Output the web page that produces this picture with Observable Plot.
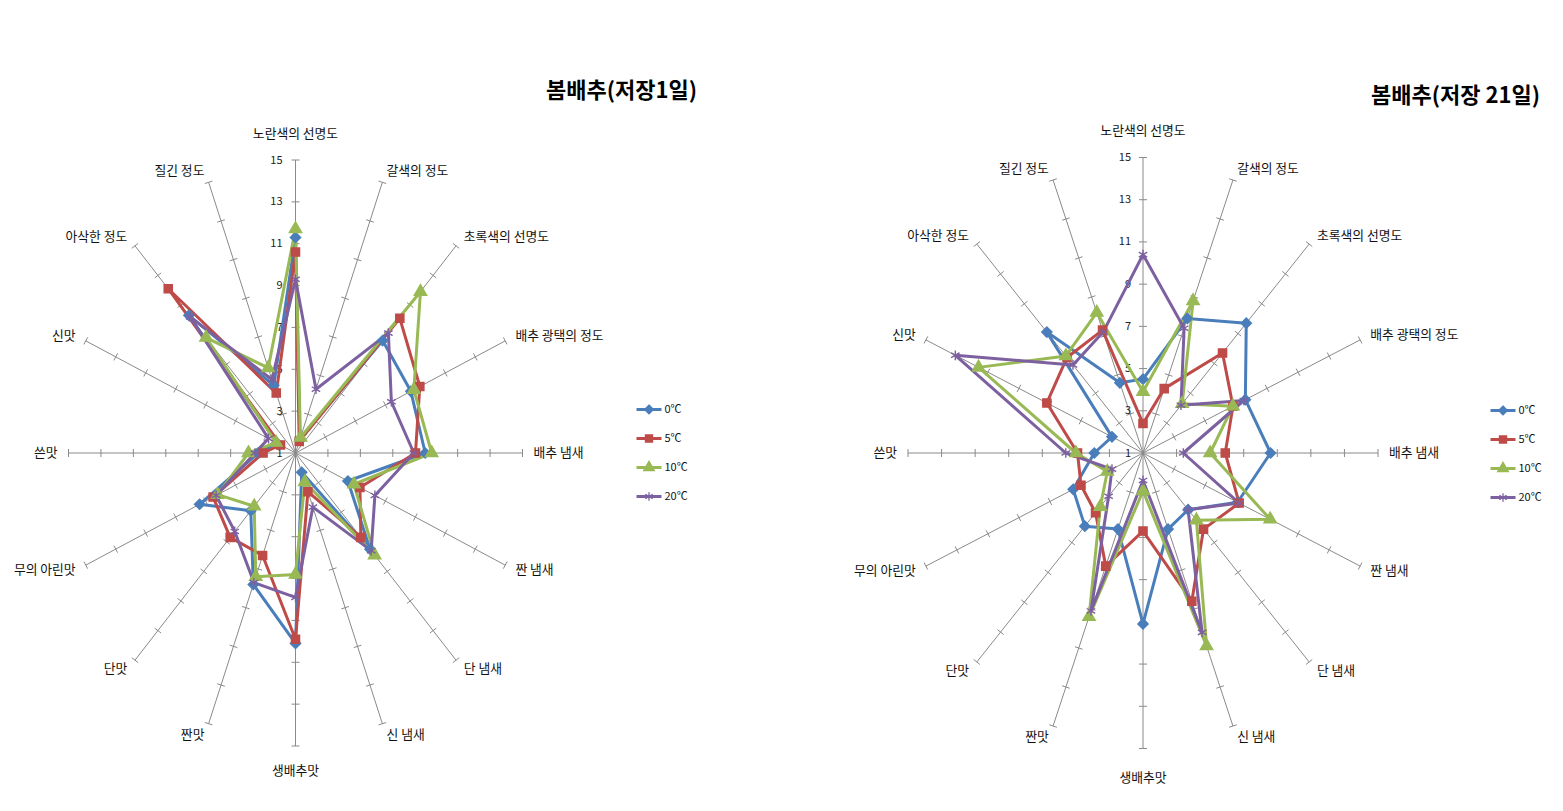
<!DOCTYPE html>
<html><head><meta charset="utf-8">
<script src="https://cdn.jsdelivr.net/npm/d3@7"></script>
<script src="https://cdn.jsdelivr.net/npm/@observablehq/plot@0.6"></script>
<style>
body{margin:0;background:#fff;}
#page{position:relative;width:1563px;height:811px;overflow:hidden;font-family:"Noto Sans CJK KR","Noto Sans",sans-serif;background:#fff;}
.box{position:absolute;}
.title{position:absolute;font-weight:bold;font-size:22px;line-height:30px;white-space:nowrap;color:#000;font-family:"Noto Sans CJK KR",sans-serif;}
</style></head><body><div id="page"></div>
<script>
// ---- data ----
const axes = ["노란색의 선명도","갈색의 정도","초록색의 선명도","배추 광택의 정도","배추 냄새","짠 냄새","단 냄새","신 냄새","생배추맛","짠맛","단맛","무의 아린맛","쓴맛","신맛","아삭한 정도","질긴 정도"];
const series = ["0℃","5℃","10℃","20℃"];
const tickValues = [1,3,5,7,9,11,13,15];

// 봄배추(저장1일)
const day1_0C  = [11.3, 1.7, 8.6, 8.7, 9.0, 4.5, 7.5, 2.0, 10.1, 7.8, 4.9, 7.4, 3.3, 2.2, 10.3, 4.5];
const day1_5C  = [10.6, 1.6, 10.1, 9.3, 8.4, 5.3, 6.7, 3.0, 9.9, 6.3, 6.7, 6.5, 3.0, 2.0, 12.1, 4.1];
const day1_10C = [11.7, 1.8, 11.9, 8.9, 9.4, 4.9, 7.9, 2.5, 6.8, 7.4, 4.6, 6.2, 3.9, 2.3, 8.8, 5.4];
const day1_20C = [9.3, 4.3, 9.1, 7.4, 8.3, 6.3, 7.6, 3.8, 7.9, 7.7, 6.3, 6.3, 3.5, 2.8, 10.2, 4.8];

// 봄배추(저장 21일)
const day21_0C  = [4.5, 7.9, 9.7, 7.6, 8.6, 7.1, 4.8, 4.9, 9.1, 4.9, 5.9, 5.5, 3.9, 3.0, 9.1, 4.6];
const day21_5C  = [2.4, 4.3, 7.7, 6.8, 5.9, 7.2, 6.1, 8.6, 4.7, 6.8, 5.0, 5.0, 4.9, 7.2, 7.4, 7.3];
const day21_10C = [3.9, 8.8, 4.3, 6.8, 5.0, 9.2, 5.5, 10.9, 2.8, 9.4, 4.6, 3.3, 5.0, 11.6, 7.5, 8.2];
const day21_20C = [10.4, 7.4, 4.2, 7.5, 3.4, 7.2, 4.8, 10.2, 2.3, 9.1, 3.9, 3.0, 5.6, 13.1, 6.9, 7.2];

// ---- styling ----
const colors = ["#4A7EBB","#BE4B48","#98B954","#7D60A0"];
const symbols = ["diamond2","square","triangle","asterisk"];
const FONT = '"Noto Sans CJK KR","Noto Sans",sans-serif';

const ang = i => i * 2 * Math.PI / axes.length;
const vmin = tickValues[0], vmax = tickValues[tickValues.length - 1];
const R = vmax - vmin;

function makeRows(lists) {
  const rows = [];
  series.forEach((s, si) => lists[si].forEach((v, i) => rows.push({series: s, index: i, value: v})));
  return rows;
}

function radar({cx, cy, rx, ry, width, height, rows, tickDx, topPad, botPad}) {
  const kx = rx / R, ky = ry / R;
  const spokes = axes.map((a, i) => ({axis: a, index: i}));
  const ticks = [];
  spokes.forEach(s => tickValues.slice(1).forEach(v => ticks.push({index: s.index, value: v})));
  const perp = i => {
    const t = ang(i);
    const px = -ky * Math.cos(t), py = kx * Math.sin(t);
    const n = Math.hypot(px, py);
    return [4 * px / n / kx, 4 * py / n / ky];
  };
  const labelPos = s => {
    const t = ang(s.index), sn = Math.sin(t), cs = Math.cos(t);
    const vertical = Math.abs(sn) < 0.01;
    const ox = vertical ? 0 : 11 * sn;
    const oy = vertical ? (cs > 0 ? topPad : botPad) : 12 * cs;
    return [R * sn + ox / kx, R * cs + oy / ky];
  };
  const anchorOf = s => { const sn = Math.sin(ang(s.index)); return sn > 0.01 ? "start" : sn < -0.01 ? "end" : "middle"; };
  const px = d => (d.value - vmin) * Math.sin(ang(d.index));
  const py = d => (d.value - vmin) * Math.cos(ang(d.index));
  const labelMark = anchor => Plot.text(spokes.filter(s => anchorOf(s) === anchor), {
    x: s => labelPos(s)[0], y: s => labelPos(s)[1], text: "axis",
    textAnchor: anchor, fontSize: 12.8, fill: "#111", fontFamily: FONT
  });
  return Plot.plot({
    width, height, margin: 0,
    x: {domain: [-R, R], range: [cx - rx, cx + rx], axis: null},
    y: {domain: [-R, R], range: [cy + ry, cy - ry], axis: null},
    color: {domain: series, range: colors},
    symbol: {domain: series, range: symbols},
    style: {background: "transparent", overflow: "visible", fontFamily: FONT},
    marks: [
      Plot.link(spokes, {x1: () => 0, y1: () => 0, x2: s => R * Math.sin(ang(s.index)), y2: s => R * Math.cos(ang(s.index)), stroke: "#8a8a8a", strokeWidth: 1}),
      Plot.link(ticks, {
        x1: d => px(d) + perp(d.index)[0], y1: d => py(d) + perp(d.index)[1],
        x2: d => px(d) - perp(d.index)[0], y2: d => py(d) - perp(d.index)[1],
        stroke: "#8a8a8a", strokeWidth: 1
      }),
      Plot.text(tickValues, {x: () => 0, y: v => v - vmin, text: v => String(v), textAnchor: "end", dx: tickDx, fontSize: 11, fill: "#222", fontFamily: FONT}),
      labelMark("start"), labelMark("middle"), labelMark("end"),
      Plot.line(rows, {x: px, y: py, z: "series", stroke: "series", strokeWidth: 3, curve: "linear-closed", strokeLinejoin: "round"}),
      Plot.dot(rows, {x: px, y: py, symbol: "series", fill: "series", stroke: "series", r: 4.6, strokeWidth: 1.4})
    ]
  });
}

function legend() {
  return Plot.plot({
    width: 70, height: 110, margin: 0,
    x: {domain: [0, 1], range: [0, 25], axis: null},
    y: {type: "point", domain: series, range: [10, 98], padding: 0, axis: null},
    color: {domain: series, range: colors},
    symbol: {domain: series, range: symbols},
    style: {background: "transparent", overflow: "visible", fontFamily: FONT},
    marks: [
      Plot.link(series, {x1: () => 0, x2: () => 1, y1: d => d, y2: d => d, stroke: d => d, strokeWidth: 3}),
      Plot.dot(series, {x: () => 0.5, y: d => d, symbol: d => d, fill: d => d, stroke: d => d, r: 4, strokeWidth: 1.3}),
      Plot.text(series, {x: () => 1, y: d => d, text: d => d, dx: 3, textAnchor: "start", fontSize: 11, fill: "#111", fontFamily: FONT})
    ]
  });
}

const page = document.getElementById("page");
function place(el, left, top) {
  const box = document.createElement("div");
  box.className = "box";
  box.style.left = left + "px";
  box.style.top = top + "px";
  box.appendChild(el);
  page.appendChild(box);
}
function title(text, right, top) {
  const t = document.createElement("div");
  t.className = "title";
  t.textContent = text;
  t.style.right = right + "px";
  t.style.top = top + "px";
  page.appendChild(t);
}

place(radar({cx: 295, cy: 452.5, rx: 227, ry: 293, width: 781, height: 811,
  rows: makeRows([day1_0C, day1_5C, day1_10C, day1_20C]), tickDx: -13, topPad: 26, botPad: -25}), 0, 0);
place(radar({cx: 361.5, cy: 452.5, rx: 235, ry: 295.5, width: 782, height: 811,
  rows: makeRows([day21_0C, day21_5C, day21_10C, day21_20C]), tickDx: -12, topPad: 27, botPad: -29}), 781, 0);
place(legend(), 636, 398);
place(legend(), 1490, 399);
title("봄배추(저장1일)", 1563 - 697, 73);
title("봄배추(저장 21일)", 1563 - 1540, 78);
</script></body></html>
